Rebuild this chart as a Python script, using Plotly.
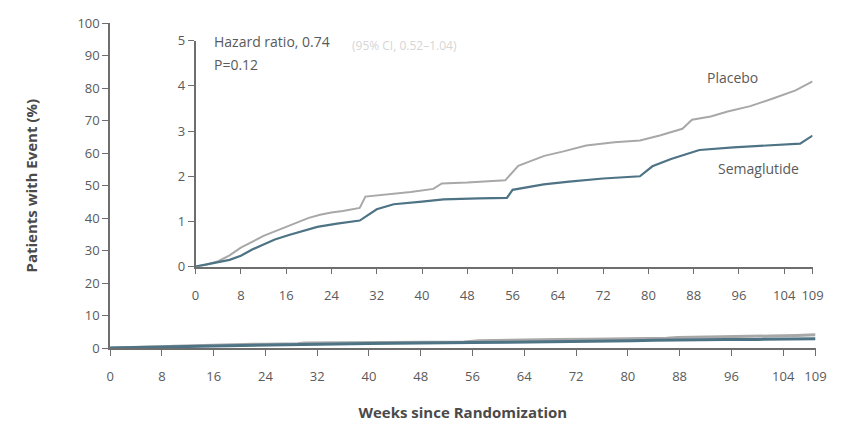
import plotly.graph_objects as go

# Data (cumulative incidence, %)
placebo_weeks = [0, 2, 4, 6, 8, 10, 12, 14, 16, 18, 20, 22, 24, 26, 28, 29, 30, 34, 38, 42, 43.5,
                 48, 52, 54.7, 57, 61.6, 65, 69, 74, 78.5, 82, 86, 87.7, 91, 94, 98, 102, 106, 109]
placebo_vals = [0, 0.05, 0.12, 0.25, 0.42, 0.55, 0.68, 0.78, 0.88, 0.98, 1.08, 1.15, 1.2, 1.23, 1.27,
                1.3, 1.55, 1.6, 1.65, 1.72, 1.84, 1.86, 1.89, 1.91, 2.23, 2.45, 2.55, 2.68, 2.75, 2.79,
                2.9, 3.05, 3.25, 3.32, 3.43, 3.55, 3.72, 3.9, 4.1]
sema_weeks = [0, 2, 4, 6, 8, 10, 12, 14, 16.5, 19, 21.5, 25, 29, 32, 35, 40, 43.8, 50, 55, 56, 61.5,
              66, 72, 78.5, 80.7, 84, 89, 95, 100, 106.8, 109]
sema_vals = [0, 0.05, 0.1, 0.15, 0.24, 0.38, 0.49, 0.6, 0.7, 0.79, 0.88, 0.95, 1.02, 1.27, 1.38, 1.44,
             1.49, 1.51, 1.52, 1.7, 1.82, 1.88, 1.95, 2.0, 2.22, 2.38, 2.58, 2.64, 2.68, 2.72, 2.9]

x_ticks = [0, 8, 16, 24, 32, 40, 48, 56, 64, 72, 80, 88, 96, 104, 109]
outer_y_ticks = [0, 10, 20, 30, 40, 50, 60, 70, 80, 90, 100]
inner_y_ticks = [0, 1, 2, 3, 4, 5]

PLACEBO_COLOR = "#a8a8a8"
SEMA_COLOR = "#4d7385"
AXIS_COLOR = "#6e6e6e"
TEXT_COLOR = "#5a5a5a"
FONT = "Open Sans"

W, H = 856, 427

fig = go.Figure()

# Outer panel
fig.add_trace(go.Scatter(x=placebo_weeks, y=placebo_vals, mode="lines",
                         line=dict(color=PLACEBO_COLOR, width=3), xaxis="x", yaxis="y",
                         showlegend=False, hoverinfo="skip"))
fig.add_trace(go.Scatter(x=sema_weeks, y=sema_vals, mode="lines",
                         line=dict(color=SEMA_COLOR, width=3), xaxis="x", yaxis="y",
                         showlegend=False, hoverinfo="skip"))
# Inset panel
fig.add_trace(go.Scatter(x=placebo_weeks, y=placebo_vals, mode="lines",
                         line=dict(color=PLACEBO_COLOR, width=2), xaxis="x2", yaxis="y2",
                         showlegend=False, hoverinfo="skip"))
fig.add_trace(go.Scatter(x=sema_weeks, y=sema_vals, mode="lines",
                         line=dict(color=SEMA_COLOR, width=2.2), xaxis="x2", yaxis="y2",
                         showlegend=False, hoverinfo="skip"))


def px_x(p):
    return p / W


def px_y(p):
    return 1 - p / H


axis_common = dict(showgrid=False, zeroline=False, showline=True, linecolor=AXIS_COLOR,
                   linewidth=1.6, ticks="outside", tickcolor=AXIS_COLOR, ticklen=6, tickwidth=1.4,
                   tickfont=dict(family=FONT, size=13, color=TEXT_COLOR))

fig.update_layout(
    width=W, height=H,
    margin=dict(l=0, r=0, t=0, b=0),
    paper_bgcolor="white", plot_bgcolor="rgba(0,0,0,0)",
    xaxis=dict(domain=[px_x(108), px_x(826)], range=[0, 109], tickvals=x_ticks,
               anchor="y", ticklabelstandoff=10,
               title=dict(text="<b>Weeks since Randomization</b>",
                          font=dict(family=FONT, size=15, color="#4a4a4a"), standoff=23),
               **axis_common),
    yaxis=dict(domain=[px_y(354), px_y(15)], range=[0, 100], tickvals=outer_y_ticks,
               anchor="x", title=dict(text="<b>Patients with Event (%)</b>",
                                      font=dict(family=FONT, size=15, color="#4a4a4a"), standoff=36),
               **axis_common),
    xaxis2=dict(domain=[px_x(195), px_x(823)], range=[0, 109], tickvals=x_ticks, anchor="y2",
                ticklabelstandoff=10, **axis_common),
    yaxis2=dict(domain=[px_y(269), px_y(33)], range=[0, 5], tickvals=inner_y_ticks, anchor="x2",
                **axis_common),
    font=dict(family=FONT, color=TEXT_COLOR),
)

annotations = [
    dict(text="Hazard ratio, 0.74", x=px_x(212), y=px_y(34), xanchor="left", yanchor="middle"),
    dict(text="(95% CI, 0.52\u20131.04)", x=px_x(352), y=px_y(38), xanchor="left", yanchor="middle",
         font=dict(family=FONT, size=12, color="#d6d6d6")),
    dict(text="P=0.12", x=px_x(212), y=px_y(58), xanchor="left", yanchor="middle"),
    dict(text="Placebo", x=px_x(741), y=px_y(72), xanchor="center", yanchor="middle"),
    dict(text="Semaglutide", x=px_x(768), y=px_y(167), xanchor="center", yanchor="middle"),
]
for a in annotations:
    a.setdefault("font", dict(family=FONT, size=14, color=TEXT_COLOR))
    a.update(xref="paper", yref="paper", showarrow=False)
    fig.add_annotation(**a)

fig.write_html("out.html")
